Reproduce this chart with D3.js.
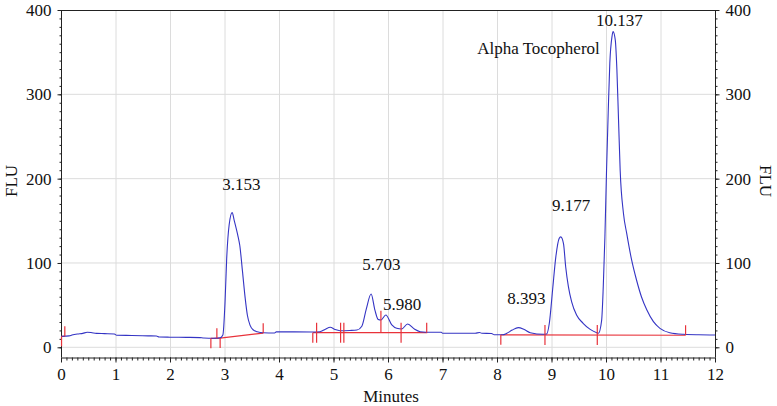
<!DOCTYPE html>
<html>
<head>
<meta charset="utf-8">
<script src="https://cdn.jsdelivr.net/npm/d3@7"></script>
<style>
html,body{margin:0;padding:0;background:#fff;}
</style>
</head>
<body>
<svg id="chart" width="777" height="406"></svg>
<script>
// ---- data ----
const timeMin = [0.00,0.07,0.15,0.20,0.30,0.40,0.48,0.55,0.65,0.80,0.98,1.02,1.30,1.60,1.75,1.80,2.00,2.30,2.55,2.62,2.80,2.92,2.97,3.01,3.04,3.085,3.14,3.18,3.25,3.28,3.33,3.38,3.42,3.47,3.53,3.60,3.71,3.92,3.95,4.60,4.75,4.85,4.94,5.03,5.12,5.30,5.43,5.52,5.60,5.69,5.76,5.82,5.87,5.96,6.07,6.16,6.25,6.36,6.49,6.59,6.70,6.98,7.00,7.60,7.68,7.72,7.90,7.95,8.10,8.18,8.28,8.39,8.50,8.61,8.85,8.91,8.96,9.02,9.08,9.14,9.17,9.22,9.26,9.31,9.37,9.46,9.58,9.71,9.83,9.86,9.92,9.95,9.98,10.01,10.04,10.07,10.11,10.13,10.17,10.20,10.23,10.26,10.32,10.38,10.47,10.56,10.65,10.75,10.87,10.99,11.17,11.42,11.70,12.00];
const fluValues = [13.0,13.2,13.5,14.5,15.8,16.5,17.8,17.5,16.5,16.2,15.8,14.3,14.0,13.6,13.4,12.3,12.0,11.8,11.5,11.0,10.8,11.2,14.6,54,105,145,159.7,150,131,121,90,58,38,26,20.5,18.5,17.2,17.0,18.3,18.2,18.5,21.5,23.7,21,19.7,20.0,20.5,25,45,63.2,44,33,32.4,38.3,26.5,22.5,21.7,27.6,21.3,18.5,17.9,17.8,16.6,16.6,17.6,16.6,16.4,14.8,14.8,16.6,20.5,23.3,21,17.3,15.4,15.8,28.5,68,107.5,129,131,123,95.6,72,54,38.3,28.5,21.3,17.3,16.6,32,72,131,210,277.6,337,368.5,374.4,364.5,329,269.6,210,159,135,103.6,79.8,60,44.2,30.4,22.5,17.3,15.4,14.8,14.6];

const baselineSeg1 = [[0.01,13.0],[0.07,13.0]];
const baselineSeg2 = [[2.75,10.6],[2.92,10.9],[3.71,16.8]];
const baselineSeg3 = [[4.62,17.3],[6.72,17.3]];
const baselineSeg4 = [[8.07,14.8],[11.46,14.3]];

const markerTimes  = [0.01,0.07,2.75,2.86,2.92,3.71,4.62,4.69,5.13,5.19,5.87,6.24,6.71,8.07,8.88,9.84,11.46];
const markerLevels = [13.0,13.0,10.6,10.7,10.9,16.8,17.3,17.3,17.3,17.3,17.3,17.3,17.3,14.8,14.7,14.5,14.3];
const markerKinds  = ["down","up","down","up","down","up","down","both","both","both","split","both","up","down","both","both","up"];

const peakLabels = ["3.153","5.703","5.980","8.393","9.177","10.137","Alpha Tocopherol"];
const peakTimes  = [3.153,5.703,5.980,8.393,9.177,10.137,9.85];

const xTicks = [0,1,2,3,4,5,6,7,8,9,10,11,12];
const yTicks = [0,100,200,300,400];

// ---- layout ----
const FONT = '"Liberation Serif","Times New Roman",serif';
const svg = d3.select("#chart");
const L = 61, R = 715, T = 10, B = 357;
const x = d3.scaleLinear().domain([0,12]).range([L,R]);
const y = d3.scaleLinear().domain([-11.5,400]).range([B,T]);

const gridColor = "#dcdcdc";
const axisColor = "#222";
const blue = "#3434c4";
const red = "#e8323a";

// grid
svg.append("g").selectAll("line").data(xTicks.filter(d=>d>0&&d<12)).join("line")
  .attr("x1",d=>x(d)+0.5).attr("x2",d=>x(d)+0.5).attr("y1",T).attr("y2",B)
  .attr("stroke",gridColor).attr("stroke-width",1);
svg.append("g").selectAll("line").data(yTicks.filter(d=>d<400)).join("line")
  .attr("x1",L).attr("x2",R).attr("y1",d=>y(d)).attr("y2",d=>y(d))
  .attr("stroke",gridColor).attr("stroke-width",1);

// frame
svg.append("line").attr("x1",L).attr("x2",R).attr("y1",T+0.5).attr("y2",T+0.5).attr("stroke",axisColor);

function styleAxis(g){
  g.attr("font-family",null).attr("font-size",null);
  g.select(".domain").attr("stroke",axisColor);
  g.selectAll(".tick line").attr("stroke",axisColor);
  g.selectAll("text").style("font-family",FONT).style("font-size","17px").attr("fill","#111");
}

// left axis
svg.append("g").attr("transform",`translate(${L+0.5},0)`)
  .call(d3.axisLeft(y).tickValues(d3.range(0,401,10)).tickFormat("").tickSize(2).tickSizeOuter(0))
  .call(styleAxis).call(g=>g.select(".domain").remove());
svg.append("g").attr("transform",`translate(${L+0.5},0)`)
  .call(d3.axisLeft(y).tickValues(yTicks).tickSize(4).tickSizeOuter(0).tickPadding(6))
  .call(styleAxis)
  .call(g=>g.select(".domain").attr("d",`M0,${T}V${B}`));

// right axis
svg.append("g").attr("transform",`translate(${R+0.5},0)`)
  .call(d3.axisRight(y).tickValues(d3.range(0,401,10)).tickFormat("").tickSize(2).tickSizeOuter(0))
  .call(styleAxis).call(g=>g.select(".domain").remove());
svg.append("g").attr("transform",`translate(${R+0.5},0)`)
  .call(d3.axisRight(y).tickValues(yTicks).tickSize(4).tickSizeOuter(0).tickPadding(6))
  .call(styleAxis)
  .call(g=>g.select(".domain").attr("d",`M0,${T}V${B}`));

// bottom axis
svg.append("g").attr("transform",`translate(0,${B+0.5})`)
  .call(d3.axisBottom(x).tickValues(d3.range(0,12.001,0.1)).tickFormat("").tickSize(3).tickSizeOuter(0))
  .call(styleAxis).call(g=>g.select(".domain").remove());
svg.append("g").attr("transform",`translate(0,${B+0.5})`)
  .call(d3.axisBottom(x).tickValues(xTicks).tickSize(5).tickSizeOuter(0).tickPadding(5))
  .call(styleAxis);

// axis titles
function label(sel){ return sel.style("font-family",FONT).style("font-size","17px").attr("fill","#111"); }
label(svg.append("text").attr("x",(L+R)/2+3).attr("y",402).attr("text-anchor","middle")).text("Minutes");
label(svg.append("text").attr("transform","translate(17,181) rotate(-90)").attr("text-anchor","middle")).text("FLU");
label(svg.append("text").attr("transform","translate(760,181) rotate(90)").attr("text-anchor","middle")).text("FLU");

// baselines
const bl = d3.line().x(d=>x(d[0])).y(d=>y(d[1]));
[baselineSeg1,baselineSeg2,baselineSeg3,baselineSeg4].forEach(seg=>{
  svg.append("path").attr("d",bl(seg)).attr("fill","none").attr("stroke",red).attr("stroke-width",1.2);
});

// trace
const trace = timeMin.map((t,i)=>[t,fluValues[i]]);
svg.append("path").datum(trace)
  .attr("d",d3.line().x(d=>x(d[0])).y(d=>y(d[1])).curve(d3.curveMonotoneX))
  .attr("fill","none").attr("stroke",blue).attr("stroke-width",1.1);

// markers
const extent = {down:[0,10], up:[-10,0], both:[-10,10], split:[-22,0]};
svg.append("g").selectAll("line").data(markerTimes.map((t,i)=>({t,v:markerLevels[i],k:markerKinds[i]}))).join("line")
  .attr("x1",d=>x(d.t)).attr("x2",d=>x(d.t))
  .attr("y1",d=>y(d.v)+extent[d.k][0]).attr("y2",d=>y(d.v)+extent[d.k][1])
  .attr("stroke",red).attr("stroke-width",1.2);

// peak labels
const peakLabelY = [189.5,269.5,309.5,304,211,26,54];
const peakAnchor = ["middle","middle","start","middle","middle","middle","end"];
const peakDx = [8.5,9.5,-4,8,10,6,2];
svg.append("g").selectAll("text").data(peakLabels).join("text")
  .attr("x",(d,i)=>x(peakTimes[i])+peakDx[i]).attr("y",(d,i)=>peakLabelY[i])
  .attr("text-anchor",(d,i)=>peakAnchor[i])
  .style("font-family",FONT).style("font-size","17px").attr("fill","#111")
  .text(d=>d);
</script>
</body>
</html>
